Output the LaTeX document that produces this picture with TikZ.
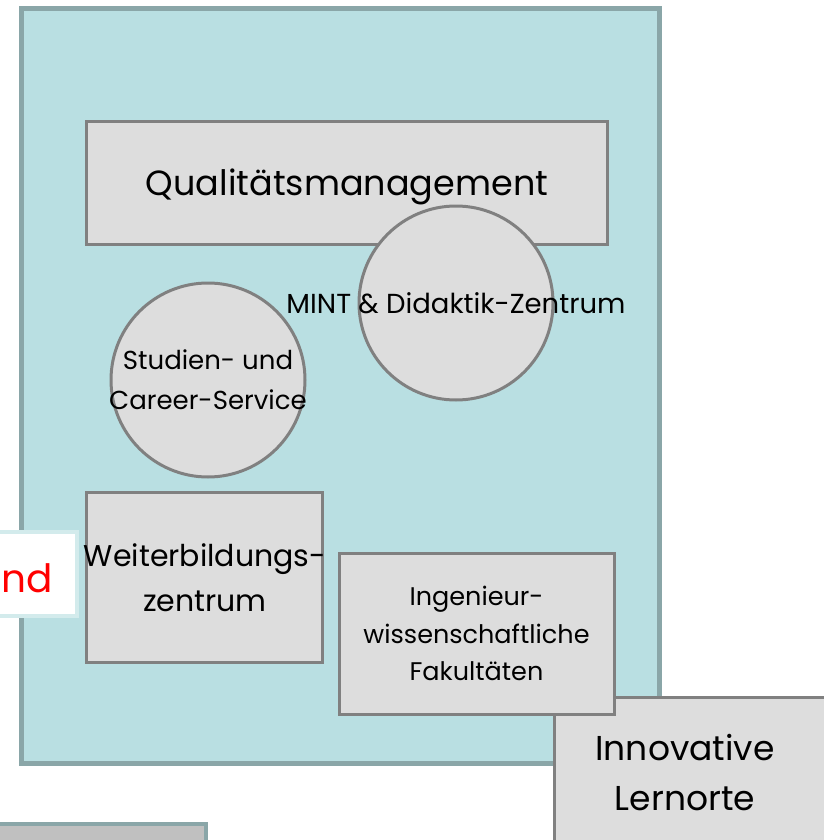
\documentclass[tikz,border=0pt]{standalone}
\usepackage{fontspec}
\setmainfont{Poppins}
\definecolor{tealfill}{HTML}{B9DFE2}
\definecolor{tealline}{HTML}{8AA6A8}
\definecolor{boxfill}{HTML}{DDDDDD}
\definecolor{boxline}{HTML}{808080}
\definecolor{ndline}{HTML}{D3EBEC}
\definecolor{lowfill}{HTML}{C0C0C0}
\begin{document}
\begin{tikzpicture}[x=1pt,y=-1pt]
  \tikzset{
    every node/.style={inner sep=0pt,outer sep=0pt,align=center},
    area/.style={rectangle,draw=tealline,line width=4.5pt,fill=tealfill},
    unit/.style={rectangle,draw=boxline,line width=3pt,fill=boxfill},
    hub/.style={circle,draw=boxline,line width=3pt,fill=boxfill,minimum size=194pt},
    big/.style={font=\fontsize{34.5}{50}\selectfont},
    mid/.style={font=\fontsize{30}{45}\selectfont},
    small/.style={font=\fontsize{25.5}{37.5}\selectfont}
  }
  \useasboundingbox (0,0) rectangle (823,840);

  \node[area,minimum width=638pt,minimum height=755pt] (campus) at (340.5,386) {};
  \node[rectangle,draw=ndline,line width=4pt,fill=white,minimum width=120pt,
        minimum height=84pt] (ndbox) at (17,574) {};
  \node[font=\fontsize{39}{45}\selectfont,text=red,anchor=east] (ndtext) at (53,578) {nd};
  \node[rectangle,draw=tealline,line width=4pt,fill=lowfill,minimum width=220pt,
        minimum height=60pt,anchor=north east] (lower) at (206,824) {};
  \node[unit,minimum width=300pt,minimum height=160pt,anchor=north west] (lernorte) at (554,697) {};
  \node[big] (lernortetext) at (685,773) {Innovative\\Lernorte};

  \node[unit,minimum width=521pt,minimum height=122pt] (qm) at (346.5,183) {};
  \node[font=\fontsize{35}{40}\selectfont] (qmtext) at (347,187) {Qualitätsmanagement};
  \node[hub] (mint) at (456,303) {};
  \node[font=\fontsize{27.5}{40}\selectfont] (minttext) at (mint) {MINT \& Didaktik-Zentrum};
  \node[hub] (service) at (208,380) {};
  \node[font=\fontsize{26}{40}\selectfont] (servicetext) at (service) {Studien- und\\Career-Service};
  \node[unit,minimum width=236pt,minimum height=170pt] (weiter) at (204,577) {};
  \node[mid] (weitertext) at (205,578) {Weiterbildungs-\\zentrum};
  \node[unit,small,minimum width=275pt,minimum height=161pt] (ing) at (476.5,633.5)
    {Ingenieur-\\wissenschaftliche\\Fakultäten};
\end{tikzpicture}
\end{document}
